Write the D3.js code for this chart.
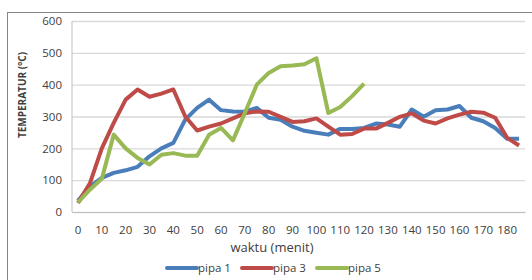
<!DOCTYPE html>
<html>
<head>
<meta charset="utf-8">
<script src="https://d3js.org/d3.v7.min.js"></script>
<style>
    body { margin: 0; background: #fff; }
    text { font-family: "Open Sans", "Noto Sans", sans-serif; fill: #404040; }
</style>
</head>
<body>
<script>
var waktu = [0, 5, 10, 15, 20, 25, 30, 35, 40, 45, 50, 55, 60, 65, 70, 75, 80, 85, 90, 95,
            100, 105, 110, 115, 120, 125, 130, 135, 140, 145, 150, 155, 160, 165, 170, 175, 180, 185];

var pipa1 = [35, 80, 107, 123, 131, 142, 175, 200, 217, 290, 327, 353, 320, 316, 315, 327, 296, 290, 268, 255,
            249, 243, 261, 261, 264, 278, 275, 268, 322, 299, 320, 322, 333, 296, 285, 264, 230, 230];
var pipa3 = [28, 90, 200, 280, 353, 385, 362, 372, 385, 300, 256, 268, 278, 294, 310, 316, 315, 299, 283, 285,
            294, 268, 243, 245, 262, 262, 280, 299, 310, 287, 278, 294, 306, 315, 312, 296, 233, 209];
var pipa5 = [30, 70, 104, 243, 200, 170, 149, 180, 185, 177, 177, 243, 264, 225, 311, 400, 437, 458, 460, 464,
            483, 311, 330, 364, 403];

var yTicks = [0, 100, 200, 300, 400, 500, 600];
var xLabels = [0, 10, 20, 30, 40, 50, 60, 70, 80, 90, 100, 110, 120, 130, 140, 150, 160, 170, 180];

var seriesNames = ["pipa 1", "pipa 3", "pipa 5"];
var colors = ["#4a7ebb", "#be4b48", "#98b954"];

var svgContainer,
    svgWidth = 532,
    svgHeight = 280,
    plot = { left: 72, right: 525, top: 21, bottom: 212 };

var xScale = d3.scaleBand().domain(waktu).range([plot.left, plot.right]);
var yScale = d3.scaleLinear().domain([0, 600]).range([plot.bottom, plot.top]);

function init() {
    svgContainer = d3.select("body").append("svg")
        .attr("width", svgWidth)
        .attr("height", svgHeight);

    // chart border
    svgContainer.append("rect")
        .attr("x", 7.5).attr("y", 12.5)
        .attr("width", 600).attr("height", 400)
        .attr("fill", "none")
        .attr("stroke", "#868686");

    drawAxes();
    [pipa1, pipa3, pipa5].forEach((values, i) => drawLine(values, colors[i]));
    drawLegend();
}

function drawAxes() {
    var yAxis = d3.axisLeft(yScale).tickValues(yTicks).tickSize(-(plot.right - plot.left)).tickPadding(10);
    var yGroup = svgContainer.append("g")
        .attr("transform", "translate(" + plot.left + ",0)")
        .call(yAxis);
    yGroup.select(".domain").remove();
    yGroup.selectAll(".tick line").attr("stroke", "#d9d9d9").attr("stroke-width", 1.3);
    yGroup.selectAll(".tick text").style("font-size", "11.5px").attr("fill", "#404040");

    var xAxis = d3.axisBottom(xScale).tickValues(xLabels).tickSize(0).tickPadding(14);
    var xGroup = svgContainer.append("g")
        .attr("transform", "translate(0," + plot.bottom + ")")
        .call(xAxis);
    xGroup.select(".domain").attr("stroke", "#bfbfbf");
    xGroup.selectAll(".tick text").style("font-size", "11.5px").attr("fill", "#404040");

    svgContainer.append("line")
        .attr("x1", plot.left).attr("x2", plot.left)
        .attr("y1", plot.top).attr("y2", plot.bottom)
        .attr("stroke", "#bfbfbf");

    svgContainer.append("text")
        .attr("x", 272).attr("y", 252)
        .attr("text-anchor", "middle")
        .style("font-size", "13px")
        .text("waktu (menit)");

    svgContainer.append("text")
        .attr("transform", "translate(26,95) rotate(-90)")
        .attr("text-anchor", "middle")
        .style("font-size", "10px")
        .style("font-weight", "bold")
        .attr("fill", "#000")
        .text("TEMPERATUR (°C)");
}

function drawLine(values, color) {
    var line = d3.line()
        .x((d, i) => xScale(waktu[i]) + xScale.bandwidth() / 2)
        .y(d => yScale(d));
    svgContainer.append("path")
        .datum(values)
        .attr("d", line)
        .attr("fill", "none")
        .attr("stroke", color)
        .attr("stroke-width", 4)
        .attr("stroke-linejoin", "round");
}

function drawLegend() {
    var starts = [167, 242, 317];
    seriesNames.forEach((name, i) => {
        svgContainer.append("line")
            .attr("x1", starts[i]).attr("x2", starts[i] + 30)
            .attr("y1", 268).attr("y2", 268)
            .attr("stroke", colors[i])
            .attr("stroke-width", 4)
            .attr("stroke-linecap", "round");
        svgContainer.append("text")
            .attr("x", starts[i] + 31).attr("y", 272)
            .style("font-size", "11.5px")
            .text(name);
    });
}

init();
</script>
</body>
</html>
